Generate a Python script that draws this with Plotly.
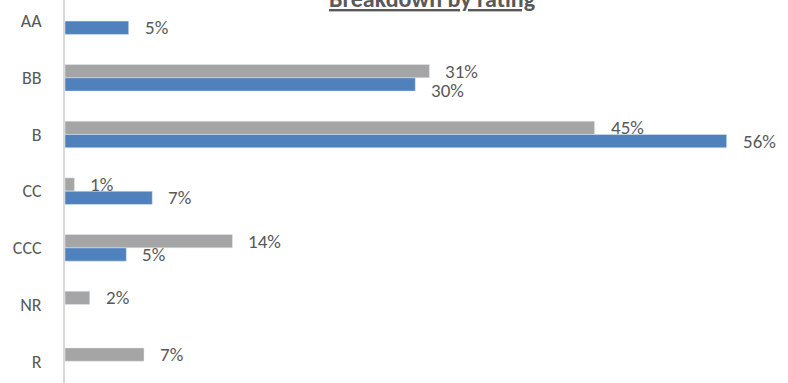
import plotly.graph_objects as go

categories = ["AA", "BB", "B", "CC", "CCC", "NR", "R"]
gray_values = [None, 30.9, 44.9, 0.8, 14.2, 2.1, 6.7]
blue_values = [5.4, 29.7, 56.1, 7.4, 5.2, None, None]
title_text = "Breakdown by rating"

GRAY = "#a5a5a5"
BLUE = "#4f81bd"
TXT = "#595959"
FONT = "Carlito, Calibri, Lato, sans-serif"

Y_RANGE = [6.384, -0.372]
HEIGHT = 383
BARGAP = 0.53
# pixel offset of each bar centre from its category centre
band_px = HEIGHT / (Y_RANGE[0] - Y_RANGE[1])
bar_px = band_px * (1 - BARGAP) / 2
# extra label nudges (pixels, negative = down), as placed in the source chart
label_nudge = {("blue", "BB"): -6}

fig = go.Figure()
fig.add_trace(go.Bar(y=categories, x=gray_values, orientation="h", marker_color=GRAY,
                     cliponaxis=False))
fig.add_trace(go.Bar(y=categories, x=blue_values, orientation="h", marker_color=BLUE,
                     cliponaxis=False))

annotations = []
for name, vals, sign in (("gray", gray_values, 1), ("blue", blue_values, -1)):
    for cat, v in zip(categories, vals):
        if v is None:
            continue
        annotations.append(dict(
            x=v, y=cat, xref="x", yref="y", text=f"{round(v):.0f}%",
            xanchor="left", yanchor="middle", showarrow=False,
            xshift=14, yshift=sign * bar_px / 2 + label_nudge.get((name, cat), 0),
            font=dict(size=19, color=TXT, family=FONT)))

annotations.append(dict(text=f"<b><u>{title_text}</u></b>", xref="paper", yref="paper",
                        x=(432 - 65) / 723, y=1, xanchor="center", yanchor="bottom",
                        yshift=-15, showarrow=False,
                        font=dict(size=24, color=TXT, family=FONT)))

fig.update_layout(
    width=788, height=HEIGHT,
    margin=dict(l=65, r=0, t=0, b=0),
    barmode="group", bargap=BARGAP, bargroupgap=0,
    plot_bgcolor="white", paper_bgcolor="white",
    showlegend=False,
    font=dict(family=FONT, color=TXT),
    xaxis=dict(range=[0, 61.3], showgrid=False, zeroline=False, showticklabels=False,
               showline=False, fixedrange=True),
    yaxis=dict(type="category", categoryorder="array", categoryarray=categories,
               range=Y_RANGE, showgrid=False, zeroline=False,
               showline=True, linecolor="#d9d9d9", linewidth=1.5,
               ticks="", ticklabelstandoff=18, tickfont=dict(size=18, color=TXT, family=FONT)),
    annotations=annotations,
)

fig.write_html("out.html")
